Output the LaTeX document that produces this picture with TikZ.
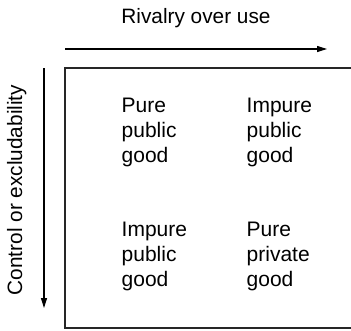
\documentclass[tikz,border=0pt]{standalone}
\usepackage{fontspec}
\setmainfont{Liberation Sans}
\usetikzlibrary{arrows.meta}
\begin{document}
\begin{tikzpicture}[x=1pt,y=-1pt,
  cell/.style={anchor=base west,inner sep=0pt,align=left,font=\fontsize{21}{25}\selectfont},
  axislabel/.style={inner sep=0pt,font=\fontsize{20.8}{22}\selectfont},
  axis/.style={line width=1.1pt,-{Triangle[length=10pt,width=6pt]}},
  frame/.style={line width=1.2pt,draw=black!85}]
\useasboundingbox (0,0) rectangle (351,330);
\coordinate (htail) at (65,49);
\coordinate (hhead) at (327,49);
\coordinate (vtail) at (44,68);
\coordinate (vhead) at (44,308);
\coordinate (tr) at (352,68);
\coordinate (tl) at (65,68);
\coordinate (bl) at (65,328);
\coordinate (br) at (352,328);
\draw[axis] (htail) -- (hhead);
\draw[axis] (vtail) -- (vhead);
\draw[frame] (tr) -- (tl) -- (bl) -- (br);
\node[axislabel,anchor=base] (rival) at (196,23) {Rivalry over use};
\node[axislabel,anchor=base,rotate=90] (control) at (22,190) {Control or excludability};
\node[cell] (ppg) at (121.5,162) {Pure\\public\\good};
\node[cell] (ipg1) at (246.5,162) {Impure\\public\\good};
\node[cell] (ipg2) at (121.5,286) {Impure\\public\\good};
\node[cell] (pvg) at (246.5,286) {Pure\\private\\good};
\end{tikzpicture}
\end{document}
